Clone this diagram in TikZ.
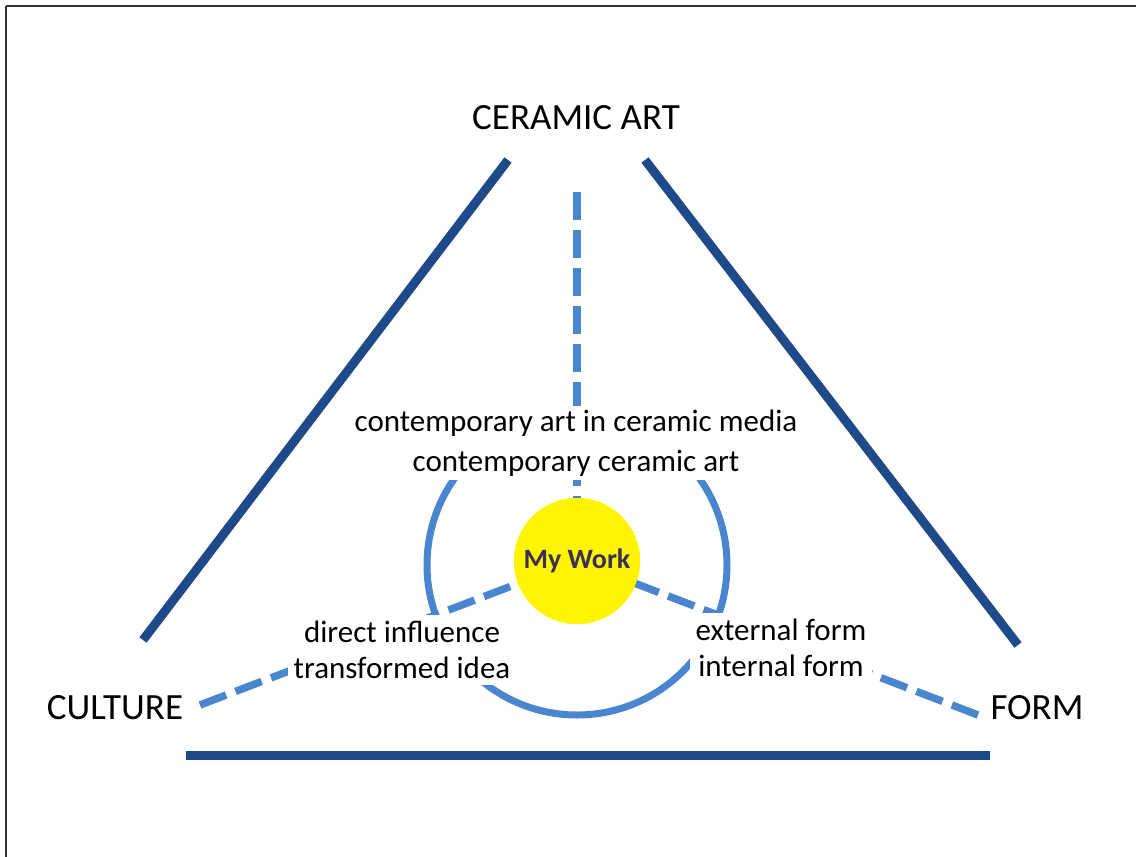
\documentclass[tikz,border=0pt]{standalone}
\usepackage{fontspec}
\setmainfont{Carlito}
\definecolor{darkb}{HTML}{1F4A8A}
\definecolor{lightb}{HTML}{4A86D0}
\definecolor{yel}{HTML}{FFF500}
\definecolor{txtdark}{HTML}{3A2F55}
\tikzset{
  side/.style={draw=darkb, line width=9pt},
  spoke/.style={draw=lightb, line width=7.5pt, dash pattern=on 28pt off 10pt},
  ring/.style={draw=lightb, line width=7pt},
  biglabel/.style={font=\fontsize{37}{44}\selectfont, text=black, inner sep=2pt},
  smalllabel/.style={font=\fontsize{31}{36}\selectfont, text=black, fill=white, align=center, inner sep=6pt},
}
\begin{document}
\begin{tikzpicture}[x=1pt,y=-1pt]
\useasboundingbox (0,0) rectangle (1136,857);
\draw[draw=gray!40!black, line width=2pt] (6,6) -- (1140,6);
\draw[draw=gray!40!black, line width=2pt] (6,6) -- (6,860);
% coordinates
\coordinate (ls1) at (143,640);
\coordinate (ls2) at (508,160);
\coordinate (rs1) at (645,160);
\coordinate (rs2) at (1018,645);
\coordinate (bs1) at (186,755);
\coordinate (bs2) at (990,755);
\coordinate (ctop) at (577,192);
\coordinate (cl) at (200,705);
\coordinate (cr) at (978,715);
\coordinate (cc) at (577,565);
% triangle sides
\draw[side] (ls1) -- (ls2);
\draw[side] (rs1) -- (rs2);
\draw[side] (bs1) -- (bs2);
% ring
\draw[ring] (cc) circle[radius=150];
% centre
\node[circle, fill=yel, minimum size=126pt, inner sep=0pt] (work) at (577,561) {};
\draw[spoke] (ctop) -- (work.north);
\draw[spoke] (cl) -- (work.center);
\draw[spoke] (cr) -- (work.center);
\node[circle, fill=yel, minimum size=126pt, inner sep=0pt, font=\fontsize{28}{32}\selectfont\bfseries, text=txtdark] (work2) at (577,561) {My Work};
% labels
\node[biglabel] (ceramic) at (576,118) {CERAMIC ART};
\node[biglabel] (culture) at (115,708) {CULTURE};
\node[biglabel] (form) at (1037,708) {FORM};
\node[smalllabel, font=\fontsize{31}{40}\selectfont, inner sep=4pt] (top) at (576,443) {contemporary art in ceramic media\\contemporary ceramic art};
\node[smalllabel] (left) at (402,650) {direct influence\\transformed idea};
\node[smalllabel] (right) at (781,648) {external form\\internal form};
\end{tikzpicture}
\end{document}
